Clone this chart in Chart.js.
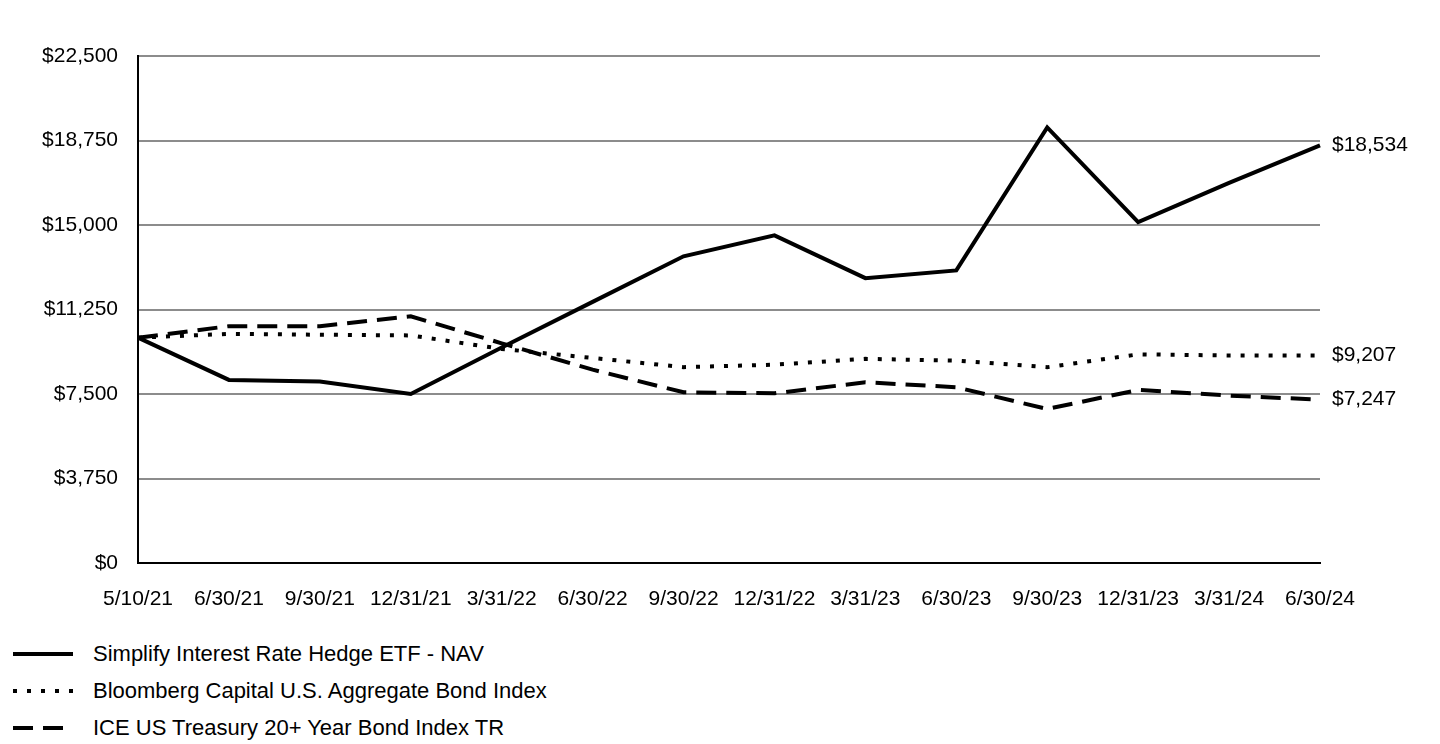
<!DOCTYPE html>
<html>
<head>
<meta charset="utf-8">
<script src="https://cdn.jsdelivr.net/npm/chart.js@4.4.1/dist/chart.umd.min.js"></script>
<style>
  html, body { margin: 0; padding: 0; background: #fff; }
  body { width: 1440px; height: 744px; position: relative; overflow: hidden;
         font-family: "Liberation Sans", Arial, sans-serif; }
  #wrap { position: absolute; left: 0; top: 0; width: 1440px; height: 620px; }
  .legend { position: absolute; left: 0; top: 635px; }
  .legend .row { position: absolute; left: 13px; height: 37px; display: flex; align-items: center;
                 white-space: nowrap; font-size: 22px; color: #000; }
  .legend svg { margin-right: 20px; }
</style>
</head>
<body>
<div id="wrap"><canvas id="chart"></canvas></div>
<div class="legend" id="legend"></div>

<script>
  // ===== Datos =====
  const labels = ["5/10/21", "6/30/21", "9/30/21", "12/31/21", "3/31/22", "6/30/22", "9/30/22",
                  "12/31/22", "3/31/23", "6/30/23", "9/30/23", "12/31/23", "3/31/24", "6/30/24"];
  const navValues = [10000, 8125, 8050, 7500, 9560, 11590, 13610, 14540, 12640, 12985, 19330, 15130, 16870, 18534];
  const aggValues = [10000, 10170, 10130, 10100, 9500, 9100, 8690, 8800, 9060, 8980, 8690, 9260, 9210, 9207];
  const tsyValues = [10000, 10510, 10510, 10950, 9750, 8580, 7575, 7530, 8020, 7800, 6835, 7680, 7430, 7247];
  const seriesNames = ["Simplify Interest Rate Hedge ETF - NAV",
                       "Bloomberg Capital U.S. Aggregate Bond Index",
                       "ICE US Treasury 20+ Year Bond Index TR"];
  const yMin = 0, yMax = 22500, yStep = 3750;

  const FONT = "'Liberation Sans', Arial, sans-serif";
  const money = (v) => "$" + Number(v).toLocaleString("en-US");

  const dashes = [[], [4, 10], [20, 10]];
  const legendLen = [60, 60, 50];

  // ===== Etiquetas al final de cada serie =====
  const endLabels = {
    id: "endLabels",
    afterDatasetsDraw(chart) {
      const ctx = chart.ctx;
      ctx.save();
      ctx.font = "21px " + FONT;
      ctx.fillStyle = "#000";
      ctx.textAlign = "left";
      ctx.textBaseline = "middle";
      chart.data.datasets.forEach((ds, i) => {
        const meta = chart.getDatasetMeta(i);
        const pt = meta.data[meta.data.length - 1];
        ctx.fillText(money(ds.data[ds.data.length - 1]), pt.x + 12, pt.y);
      });
      ctx.restore();
    }
  };

  const mkDataset = (label, data, i) => ({
    label, data,
    borderColor: "#000",
    borderWidth: 4,
    borderDash: dashes[i],
    borderCapStyle: "butt",
    borderJoinStyle: "miter",
    pointRadius: 0,
    tension: 0,
    fill: false
  });

  new Chart(document.getElementById("chart"), {
    type: "line",
    data: {
      labels,
      datasets: [
        mkDataset(seriesNames[0], navValues, 0),
        mkDataset(seriesNames[1], aggValues, 1),
        mkDataset(seriesNames[2], tsyValues, 2)
      ]
    },
    options: {
      responsive: true,
      maintainAspectRatio: false,
      animation: false,
      layout: { padding: { top: 56, right: 120, left: 0, bottom: 0 } },
      plugins: { legend: { display: false }, tooltip: { enabled: false } },
      scales: {
        x: {
          offset: false,
          grid: { display: false, drawTicks: false },
          border: { display: true, color: "#000", width: 2 },
          ticks: { color: "#000", font: { family: FONT, size: 21 }, padding: 24,
                   maxRotation: 0, autoSkip: false },
          afterFit: (s) => { s.height = 57; }
        },
        y: {
          min: yMin, max: yMax,
          grid: { color: "#8c8c8c", lineWidth: 2, drawTicks: false },
          border: { display: true, color: "#000", width: 2 },
          ticks: { stepSize: yStep, color: "#000", font: { family: FONT, size: 21 }, padding: 20,
                   callback: (v) => money(v) },
          afterFit: (s) => { s.width = 138; }
        }
      }
    },
    plugins: [endLabels]
  });

  // ===== Leyenda =====
  const legend = document.getElementById("legend");
  seriesNames.forEach((name, i) => {
    const row = document.createElement("div");
    row.className = "row";
    row.style.top = (i * 37) + "px";
    const dash = dashes[i].length ? ` stroke-dasharray="${dashes[i].join(" ")}"` : "";
    row.innerHTML = `<svg width="60" height="8"><line x1="0" y1="4" x2="${legendLen[i]}" y2="4" stroke="#000" stroke-width="4"${dash}/></svg><span>${name}</span>`;
    legend.appendChild(row);
  });
</script>
</body>
</html>
